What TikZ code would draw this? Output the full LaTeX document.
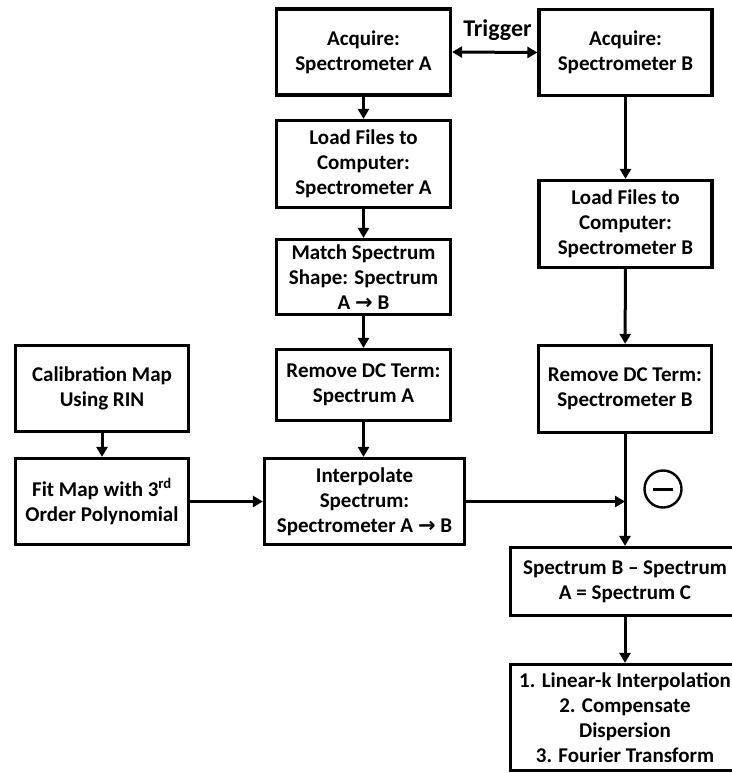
\documentclass[tikz,border=0pt]{standalone}
\usepackage{fontspec}
\setmainfont{Carlito}
\newfontfamily\symfont{DejaVu Sans}
\usetikzlibrary{arrows.meta}
\newcommand{\sarrow}{{\symfont →}}
\begin{document}
\begin{tikzpicture}[x=1pt, y=-1pt,
  blk/.style={rectangle, draw, line width=3.2pt, align=center, inner sep=1pt,
    font=\fontsize{21}{25}\selectfont\bfseries},
  colA/.style={blk, minimum width=174pt},
  colB/.style={blk, minimum width=173pt},
  flow/.style={line width=3pt, -{Triangle[length=10pt, width=11pt]}},
  trig/.style={line width=3pt, {Triangle[length=10pt, width=11pt]}-{Triangle[length=10pt, width=11pt]}},
]
\useasboundingbox (0,0) rectangle (731,773);

% Spectrometer A column
\node[colA, minimum height=86pt] (acqA) at (363.5,52) {Acquire:\\Spectrometer A};
\node[colA, minimum height=87pt] (loadA) at (363.5,164) {Load Files to\\Computer:\\Spectrometer A};
\node[colA, minimum height=75pt] (matchA) at (363.5,277) {Match Spectrum\\Shape: Spectrum\\A \sarrow{} B};
\node[colA, minimum height=71pt] (remA) at (363.5,385) {Remove DC Term:\\Spectrum A};
\node[blk, minimum width=200pt, minimum height=86pt] (interp) at (364.5,501.5) {Interpolate\\Spectrum:\\Spectrometer A \sarrow{} B};

% Calibration
\node[colB, minimum height=86pt] (calib) at (102,388.5) {Calibration Map\\Using RIN};
\node[colB, minimum height=86pt] (fit) at (102,501.5) {Fit Map with 3\textsuperscript{rd}\\Order Polynomial};

% Spectrometer B column
\node[colB, minimum height=86pt] (acqB) at (625.5,52.5) {Acquire:\\Spectrometer B};
\node[colB, minimum height=87pt] (loadB) at (625.5,224) {Load Files to\\Computer:\\Spectrometer B};
\node[colB, minimum height=87pt] (remB) at (625,389) {Remove DC Term:\\Spectrometer B};

% Subtraction and processing
\node[blk, minimum width=229pt, minimum height=68pt] (specC) at (625,581.5) {Spectrum B -- Spectrum\\A = Spectrum C};
\node[blk, minimum width=229pt, minimum height=106pt] (proc) at (625,717.5) {1. Linear-k Interpolation\\2. Compensate\\Dispersion\\3. Fourier Transform};
\node[circle, draw, line width=2.4pt, minimum size=37pt, inner sep=0pt] (minus) at (663,489) {};
\draw[line width=3pt] ([xshift=-10pt]minus.center) -- ([xshift=10pt]minus.center);

% Trigger
\draw[trig] (acqA.east) -- (acqB.west);
\node[font=\fontsize{24}{28}\selectfont\bfseries] (trigger) at (497.5,30) {Trigger};

% Connectors
\draw[flow] (acqA) -- (loadA);
\draw[flow] (loadA) -- (matchA);
\draw[flow] (matchA) -- (remA);
\draw[flow] (remA.south) -- (remA.south |- interp.north);
\draw[flow] (calib) -- (fit);
\draw[flow] (fit.east) -- (fit.east -| interp.west);
\draw[flow] (acqB) -- (loadB);
\draw[flow] (loadB) -- (remB);
\coordinate (join) at (remB.south |- interp.east);
\draw[flow] (interp.east) -- (join);
\draw[flow] (remB.south) -- (specC.north);
\draw[flow] (specC) -- (proc);

\end{tikzpicture}
\end{document}
